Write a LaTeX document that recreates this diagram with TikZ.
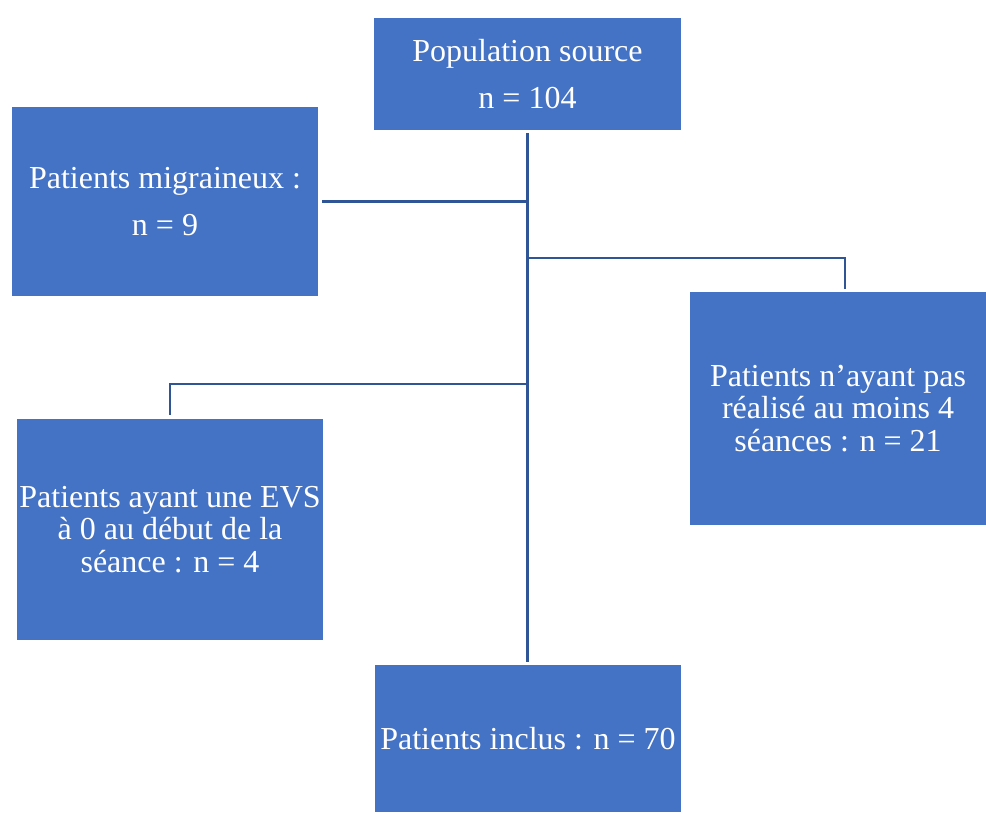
\documentclass[tikz,border=0pt]{standalone}
\usepackage{fontspec}
\setmainfont{Liberation Serif}
\definecolor{boxblue}{HTML}{4472C4}
\definecolor{lineblue}{HTML}{2F5597}
\begin{document}
\begin{tikzpicture}[x=1pt,y=-1pt,
  flowbox/.style={fill=boxblue, draw=none, text=white, align=center, inner sep=0pt,
    font=\fontsize{32}{32.5}\selectfont},
  link/.style={draw=lineblue, line width=2.5pt}]
\useasboundingbox (0,0) rectangle (986,812);
\node[flowbox, minimum width=307pt, minimum height=112pt] (top) at (527.5,74) {Population source\\[15pt] n = 104};
\node[flowbox, minimum width=306pt, minimum height=189pt] (mig) at (165,201.5) {Patients migraineux :\\[15pt] n = 9};
\node[flowbox, minimum width=296pt, minimum height=233pt] (sea) at (838,408.5) {Patients n’ayant pas\\ réalisé au moins 4\\ séances : n = 21};
\node[flowbox, minimum width=306pt, minimum height=221pt] (evs) at (170,529.5) {Patients ayant une EVS\\ à 0 au début de la\\ séance : n = 4};
\node[flowbox, minimum width=306pt, minimum height=147pt] (inc) at (528,738.5) {Patients inclus : n = 70};
\coordinate (jr) at (527,258);
\coordinate (jl) at (527,384);
\coordinate (rtop) at (845,289);
\draw[link, shorten <=3pt, shorten >=3pt] (top.south) -- (top.south |- inc.north);
\draw[link, shorten <=4pt] (mig.east) -- (mig.east -| top.south);
\draw[link] (jr) -| (rtop);
\draw[link, shorten >=4pt] (jl) -| (evs.north);
\end{tikzpicture}
\end{document}
